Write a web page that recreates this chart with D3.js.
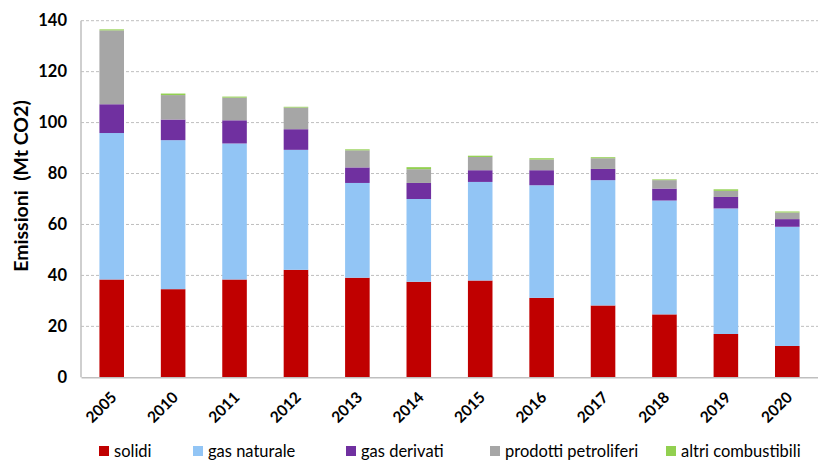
<!DOCTYPE html>
<html><head><meta charset="utf-8">
<script src="https://cdn.jsdelivr.net/npm/d3@7/dist/d3.min.js"></script>
<style>body{margin:0;background:#fff}svg{display:block}</style>
</head><body><svg id="c" width="818" height="460"></svg>
<script>
const years = ["2005","2010","2011","2012","2013","2014","2015","2016","2017","2018","2019","2020"];
const seriesNames = ["solidi","gas naturale","gas derivati","prodotti petroliferi","altri combustibili"];
const solidi = [38.4,34.6,38.4,42.2,39.1,37.5,38.0,31.2,28.2,24.7,17.0,12.3];
const gasNaturale = [57.5,58.5,53.4,47.1,37.2,32.5,38.7,44.2,49.2,44.7,49.3,46.8];
const gasDerivati = [11.3,8.1,9.1,8.1,6.1,6.3,4.6,5.9,4.4,4.7,4.5,3.0];
const prodottiPetroliferi = [29.0,9.6,8.9,8.5,6.7,5.4,5.2,4.2,4.2,3.3,2.4,2.6];
const altriCombustibili = [0.4,0.6,0.4,0.3,0.4,0.8,0.5,0.5,0.4,0.3,0.6,0.4];
const yTicks = [0,20,40,60,80,100,120,140];
const colors = ["#C00000","#92C5F5","#7030A0","#A6A6A6","#92D050"];

const allSeries = [solidi,gasNaturale,gasDerivati,prodottiPetroliferi,altriCombustibili];
const data = years.map((y,i)=>{const o={year:y};seriesNames.forEach((n,k)=>o[n]=allSeries[k][i]);return o;});
const stack = d3.stack().keys(seriesNames)(data);

const svg = d3.select("#c");
const m = {left:81, right:818, top:20.7, bottom:377.3};
const x = d3.scaleBand().domain(years).range([m.left, m.right]).paddingInner(0.6).paddingOuter(0.3);
const y = d3.scaleLinear().domain([0,140]).range([m.bottom, m.top]);
const font = "Lato, 'Open Sans', sans-serif";

// gridlines
svg.append("g").selectAll("line").data(yTicks.filter(t=>t>0)).join("line")
  .attr("x1",m.left).attr("x2",m.right).attr("y1",d=>y(d)).attr("y2",d=>y(d))
  .attr("stroke","#BFBFBF").attr("stroke-width",1).attr("stroke-dasharray","3,2");

// bars
svg.append("g").selectAll("g").data(stack).join("g").attr("fill",(d,i)=>colors[i])
  .selectAll("rect").data(d=>d).join("rect")
  .attr("x",d=>x(d.data.year)).attr("width",x.bandwidth())
  .attr("y",d=>y(d[1])).attr("height",d=>y(d[0])-y(d[1]));

// y axis
const ya = svg.append("g").attr("transform",`translate(${m.left},0)`)
  .call(d3.axisLeft(y).tickValues(yTicks).tickSize(0).tickPadding(14));
ya.select(".domain").attr("stroke","#BFBFBF").attr("stroke-width",1.5).attr("d",`M0,${m.top}V${m.bottom}`);
ya.selectAll("text").attr("font-family",font).attr("font-weight","bold").attr("font-size",16.5).attr("fill","#000");

// x axis
const xa = svg.append("g").attr("transform",`translate(0,${m.bottom})`)
  .call(d3.axisBottom(x).tickSize(0));
xa.select(".domain").attr("stroke","#BFBFBF").attr("stroke-width",1.5);
xa.selectAll("text").attr("font-family",font).attr("font-weight","bold").attr("font-size",15.5).attr("fill","#000")
  .attr("text-anchor","end").attr("dy",0).attr("y",0)
  .attr("transform","translate(6,21) rotate(-45)");

// y title
svg.append("text").attr("transform","translate(28,186) rotate(-90)")
  .attr("text-anchor","middle").attr("font-family",font).attr("font-weight","bold").attr("font-size",19.5)
  .attr("xml:space","preserve").text("Emissioni  (Mt CO2)");

// legend
const legX = [99,193,346,490,666];
const lg = svg.append("g").selectAll("g").data(seriesNames).join("g")
  .attr("transform",(d,i)=>`translate(${legX[i]},451)`);
lg.append("rect").attr("x",0).attr("y",-5).attr("width",10).attr("height",10).attr("fill",(d,i)=>colors[i]);
lg.append("text").attr("x",15).attr("y",5.5).attr("font-family",font).attr("font-size",16.5).text(d=>d);
</script></body></html>
